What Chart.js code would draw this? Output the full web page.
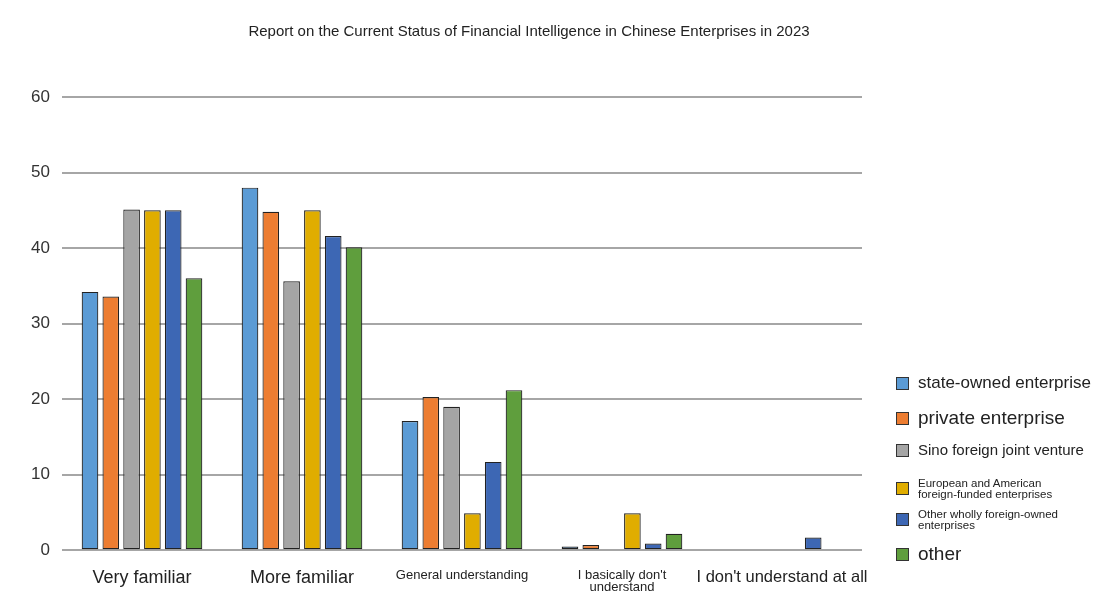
<!DOCTYPE html>
<html>
<head>
<meta charset="utf-8">
<script src="https://cdn.jsdelivr.net/npm/chart.js@4"></script>
<style>
body { margin: 0; background: #fff; font-family: "Liberation Sans", Arial, sans-serif; }
#wrap { position: relative; width: 1058px; height: 605px; }
#legend { position: absolute; left: 896px; top: 370px; width: 207px; }
.item { position: absolute; left: 0; display: flex; align-items: center; color: #222; line-height: 0.95; }
.box { width: 11px; height: 11px; border: 1px solid #333; margin-right: 9px; flex: none; }
</style>
</head>
<body>
<div id="wrap">
    <canvas id="chart"></canvas>
</div>
<div id="legend"></div>
<script>
const categories = [
    'Very familiar',
    'More familiar',
    'General understanding',
    ['I basically don\'t', 'understand'],
    'I don\'t understand at all'
];
const seriesNames = [
    'state-owned enterprise',
    'private enterprise',
    'Sino foreign joint venture',
    'European and American foreign-funded enterprises',
    'Other wholly foreign-owned enterprises',
    'other'
];
const stateOwned = [34.2, 48.0, 17.1, 0.5, 0];
const privateEnt = [33.6, 44.8, 20.3, 0.7, 0];
const sinoForeign = [45.1, 35.6, 19.0, 0, 0];
const euAmerican = [45.0, 45.0, 4.9, 4.9, 0];
const otherForeign = [45.0, 41.6, 11.7, 0.9, 1.7];
const other = [36.0, 40.1, 21.2, 2.2, 0];
const yTicks = [0, 10, 20, 30, 40, 50, 60];

const values = [stateOwned, privateEnt, sinoForeign, euAmerican, otherForeign, other];
const colors = ['#5b9bd5', '#ed7d31', '#a5a5a5', '#e0ad00', '#3d67b4', '#5f9e3d'];
// legend text in the picture is set in mixed sizes
const legendText = [
    'state-owned enterprise',
    'private enterprise',
    'Sino foreign joint venture',
    'European and American<br>foreign-funded enterprises',
    'Other wholly foreign-owned<br>enterprises',
    'other'
];
const legendFonts = [17, 19, 15, 11.5, 11.5, 19];
const legendTops = [5, 39, 73, 108, 139, 175];
const tickFonts = [18, 18, 13, 13, 16.5];

const datasets = seriesNames.map((name, i) => {
    return {
        label: name,
        data: values[i],
        backgroundColor: colors[i],
        borderColor: '#222',
        borderWidth: 1.2,
        borderSkipped: false,
        categoryPercentage: 0.78,
        barPercentage: 0.8
    };
});

const legend = document.getElementById('legend');
legendText.forEach((name, i) => {
    const item = document.createElement('div');
    item.className = 'item';
    item.style.top = legendTops[i] + 'px';
    const box = document.createElement('span');
    box.className = 'box';
    box.style.background = colors[i];
    const text = document.createElement('span');
    text.style.fontSize = legendFonts[i] + 'px';
    text.style.whiteSpace = 'nowrap';
    text.innerHTML = name;
    item.append(box, text);
    legend.append(item);
});

const ctx = document.getElementById('chart');
//eslint-disable-next-line no-undef
new Chart(ctx, {
    type: 'bar',
    data: {
        labels: categories,
        datasets: datasets
    },
    options: {
        responsive: true,
        maintainAspectRatio: false,
        animation: false,
        layout: {
            padding: { left: 0, right: 0, bottom: 0 }
        },
        plugins: {
            legend: { display: false },
            tooltip: { enabled: false },
            title: {
                display: true,
                text: 'Report on the Current Status of Financial Intelligence in Chinese Enterprises in 2023',
                color: '#222',
                font: { family: 'Liberation Sans', size: 15, weight: 'normal' },
                padding: { top: 23, bottom: 56 }
            }
        },
        scales: {
            x: {
                grid: { display: false },
                border: { display: false },
                ticks: {
                    color: '#222',
                    maxRotation: 0,
                    autoSkip: false,
                    padding: 11,
                    font: (c) => ({ family: 'Liberation Sans', size: tickFonts[c.index] || 16, lineHeight: 0.95 })
                }
            },
            y: {
                min: 0,
                max: 60,
                afterBuildTicks: (axis) => {
                    axis.ticks = yTicks.map(v => ({ value: v }));
                },
                afterFit: (axis) => {
                    axis.width = 62;
                },
                border: { display: false },
                grid: { color: '#a6a6a6', lineWidth: 2, drawTicks: false },
                ticks: {
                    color: '#333',
                    padding: 12,
                    font: { family: 'Liberation Sans', size: 17 }
                }
            },
            side: {
                position: 'right',
                min: 0,
                max: 60,
                afterFit: (axis) => {
                    axis.width = 196;
                },
                border: { display: false },
                grid: { display: false },
                ticks: { display: false }
            }
        }
    }
});
</script>
</body>
</html>
